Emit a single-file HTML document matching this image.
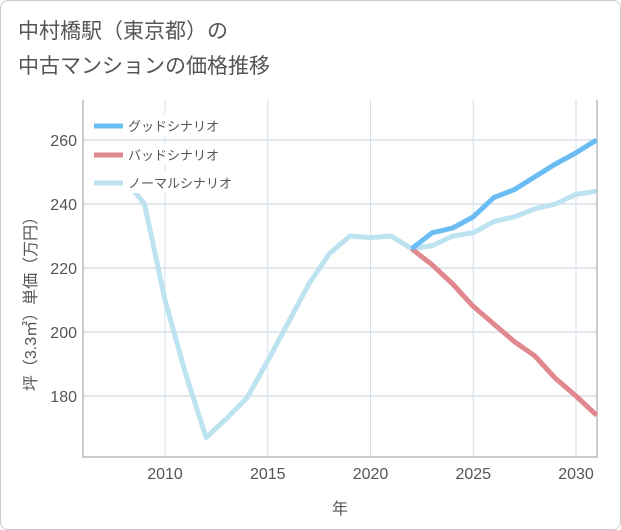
<!DOCTYPE html>
<html><head><meta charset="utf-8"><style>
body{margin:0;background:#fff;font-family:"Liberation Sans","Noto Sans CJK JP",sans-serif;}
#card{position:absolute;left:0;top:0;width:619px;height:528px;border:1px solid #ccc;border-radius:8px;background:#fff;}
#title{position:absolute;left:18px;top:14px;font-size:21px;line-height:35px;color:#555;}
svg{position:absolute;left:0;top:0;}
</style></head><body>
<div id="card"></div>
<div id="title">中村橋駅（東京都）の<br>中古マンションの価格推移</div>
<svg id="c" width="621" height="530"></svg>
<script>
const xTicks=[2010,2015,2020,2025,2030];
const yTicks=[180,200,220,240,260];
const normalYears=[2008.5,2009,2010,2011,2012,2013,2014,2015,2016,2017,2018,2019,2020,2021,2022,2023,2024,2025,2026,2027,2028,2029,2030,2031];
const normalVals=[244,240,210,187,167,173,179.5,191,203,215,224.5,230,229.5,230,226,227,230,231,234.5,236,238.5,240,243,244];
const goodYears=[2022,2023,2024,2025,2026,2027,2028,2029,2030,2031];
const goodVals=[226,231,232.5,236,242,244.5,248.5,252.5,256,260];
const badYears=[2022,2023,2024,2025,2026,2027,2028,2029,2030,2031];
const badVals=[226,221,215,208,202.5,197,192.5,185.5,180,174];
const NS="http://www.w3.org/2000/svg";
const svg=document.getElementById('c');
const L=83,R=597,T=100,B=457;
const x=v=>165+(v-2010)*20.55;
const y=v=>140+(260-v)*3.2;
function mk(t,a){const e=document.createElementNS(NS,t);for(const k in a)e.setAttribute(k,a[k]);svg.appendChild(e);return e;}
// grid
yTicks.forEach(v=>{const l=mk('line',{x1:L,x2:R,y1:y(v),y2:y(v),stroke:'#c8d0d8','stroke-width':1});


const t=mk('text',{x:L-6,y:y(v)+6,'text-anchor':'end','font-size':16,fill:'#555'});t.textContent=v;

});
xTicks.forEach(v=>{const l=mk('line',{x1:x(v),x2:x(v),y1:T,y2:B,stroke:'#cfe0ee','stroke-width':1});


const t=mk('text',{x:x(v),y:B+22,'text-anchor':'middle','font-size':16,fill:'#555'});t.textContent=v;

});
const ax=mk('path',{d:`M${L},${T}V${B}H${R}V${T}`,fill:'none',stroke:'#999','stroke-width':1});


function series(xs,vs,color,name){const p=mk('polyline',{points:xs.map((a,i)=>x(a)+','+y(vs[i])).join(' '),fill:'none',stroke:color,'stroke-width':5,'stroke-linejoin':'round'});

}
svg.insertAdjacentHTML('beforeend',`<clipPath id="cp"><rect x="${L}" y="${T}" width="${R-L}" height="${B-T}"/></clipPath>`);
series(normalYears,normalVals,'#bde2f0','normal-scenario-line');
series(badYears,badVals,'#e0888e','bad-scenario-line');
series(goodYears,goodVals,'#6bbcf3','good-scenario-line');
// legend
[['グッドシナリオ','#6bbcf3',126],['バッドシナリオ','#e0888e',155],['ノーマルシナリオ','#bde2f0',183]].forEach(([n,c,yy])=>{
const bg=mk('rect',{x:90,y:yy-12,width:160,height:22,fill:'#fff'});


const l=mk('line',{x1:94,x2:123,y1:yy,y2:yy,stroke:c,'stroke-width':5});


const t=mk('text',{x:128,y:yy+5,'font-size':13,fill:'#555'});t.textContent=n;

});
const xt=mk('text',{x:340,y:514,'text-anchor':'middle','font-size':16,fill:'#555'});xt.textContent='年';


const yt=mk('text',{x:0,y:0,'text-anchor':'middle','font-size':16,fill:'#555',transform:'translate(36,300) rotate(-90)'});yt.textContent='坪（3.3㎡）単価（万円）';


</script>
</body></html>
